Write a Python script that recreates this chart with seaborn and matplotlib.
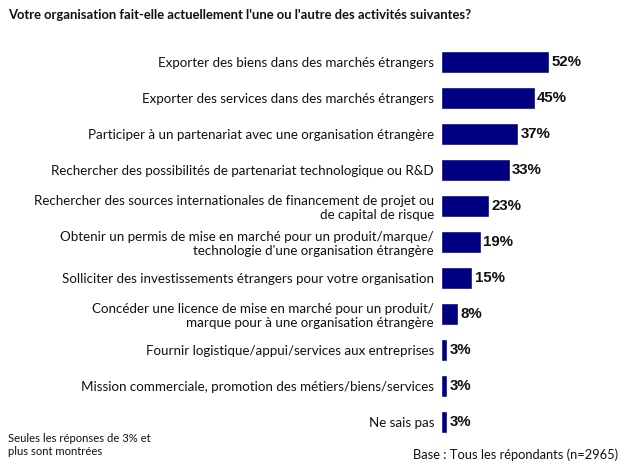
import matplotlib
matplotlib.use("Agg")
import matplotlib.pyplot as plt
import seaborn as sns
import pandas as pd

categories = [
    "Exporter des biens dans des marchés étrangers",
    "Exporter des services dans des marchés étrangers",
    "Participer à un partenariat avec une organisation étrangère",
    "Rechercher des possibilités de partenariat technologique ou R&D",
    "Rechercher des sources internationales de financement de projet ou\nde capital de risque",
    "Obtenir un permis de mise en marché pour un produit/marque/\ntechnologie d'une organisation étrangère",
    "Solliciter des investissements étrangers pour votre organisation",
    "Concéder une licence de mise en marché pour un produit/\nmarque pour à une organisation étrangère",
    "Fournir logistique/appui/services aux entreprises",
    "Mission commerciale, promotion des métiers/biens/services",
    "Ne sais pas",
]
values = [52, 45, 37, 33, 23, 19, 15, 8, 3, 3, 3]

df = pd.DataFrame({"cat": categories, "val": values})

sns.set_theme(style="white")
plt.rcParams['font.family'] = ['Lato', 'DejaVu Sans']

fig = plt.figure(figsize=(6.24, 4.68), dpi=100)
ax = fig.add_axes([441/624, 0.060, (618-441)/624, 0.846])
sns.barplot(data=df, y="cat", x="val", orient="h", color="#000080",
            width=0.6, ax=ax, saturation=1)
ax.set_xlim(0, 85)
ax.set_ylim(10.5, -0.5)
ax.set_xlabel("")
ax.set_ylabel("")
ax.set_xticks([])
for s in ax.spines.values():
    s.set_visible(False)
ax.tick_params(axis="y", length=0, pad=5)
for lbl in ax.get_yticklabels():
    lbl.set_fontsize(9.6)
    lbl.set_color("#111111")
    lbl.set_horizontalalignment("right")
    lbl.set_multialignment("right")
    lbl.set_linespacing(1.2)

for i, v in enumerate(values):
    ax.text(v + 1.2, i, f"{v}%", va="center", ha="left",
            fontsize=10.8, fontweight="bold", family="Liberation Sans", color="#111111")

fig.text(8/624, 1-15/468, "Votre organisation fait-elle actuellement l'une ou l'autre des activités suivantes?",
         fontsize=9.4, fontweight="bold", va="center", ha="left", color="#111111")
fig.text(8/624, 1-445/468, "Seules les réponses de 3% et\nplus sont montrées",
         fontsize=8.1, va="center", ha="left", color="#111111", linespacing=1.15)
fig.text(618/624, 1-455/468, "Base : Tous les répondants (n=2965)",
         fontsize=9.3, va="center", ha="right", color="#111111")

fig.savefig("out.png", dpi=100)
